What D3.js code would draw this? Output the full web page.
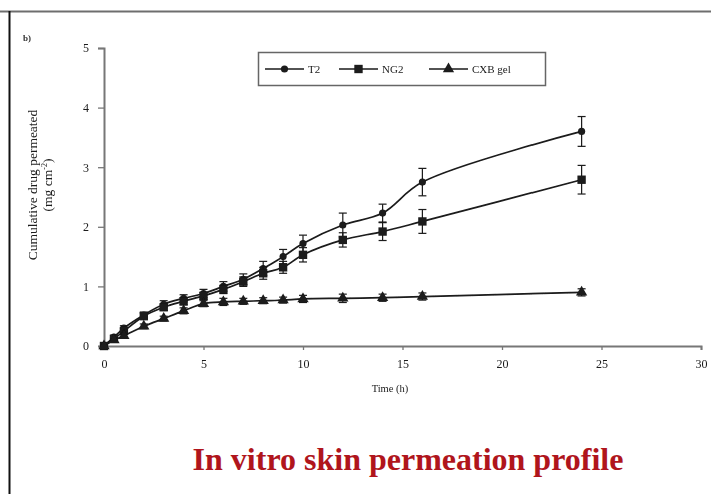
<!DOCTYPE html>
<html>
<head>
<meta charset="utf-8">
<script src="https://cdn.jsdelivr.net/npm/d3@7"></script>
<style>
  html, body { margin: 0; padding: 0; background: #fff; }
  svg { display: block; }
</style>
</head>
<body>
<svg id="chart" width="711" height="494"></svg>
<script>
// Sampling times (h)
const times = [0, 0.5, 1, 2, 3, 4, 5, 6, 7, 8, 9, 10, 12, 14, 16, 24];

// Cumulative drug permeated (mg cm^-2) with standard deviations
const t2Values   = [0, 0.15, 0.30, 0.52, 0.70, 0.80, 0.88, 1.00, 1.12, 1.30, 1.50, 1.72, 2.03, 2.23, 2.75, 3.60];
const t2Errors   = [0, 0.03, 0.04, 0.05, 0.06, 0.06, 0.07, 0.08, 0.09, 0.12, 0.12, 0.14, 0.20, 0.15, 0.23, 0.25];
const ng2Values  = [0, 0.12, 0.25, 0.50, 0.65, 0.75, 0.84, 0.95, 1.08, 1.22, 1.32, 1.53, 1.78, 1.92, 2.09, 2.79];
const ng2Errors  = [0, 0.03, 0.04, 0.05, 0.05, 0.06, 0.06, 0.07, 0.08, 0.10, 0.10, 0.12, 0.12, 0.15, 0.20, 0.24];
const cxbValues  = [0, 0.10, 0.17, 0.33, 0.46, 0.59, 0.71, 0.74, 0.75, 0.76, 0.77, 0.79, 0.80, 0.81, 0.83, 0.90];
const cxbErrors  = [0, 0.02, 0.03, 0.04, 0.04, 0.05, 0.05, 0.06, 0.05, 0.05, 0.05, 0.06, 0.07, 0.06, 0.06, 0.06];

const seriesNames = ["T2", "NG2", "CXB gel"];
const xTicks = [0, 5, 10, 15, 20, 25, 30];
const yTicks = [0, 1, 2, 3, 4, 5];

const series = [
  { name: seriesNames[0], values: t2Values,  errors: t2Errors,  marker: "circle" },
  { name: seriesNames[1], values: ng2Values, errors: ng2Errors, marker: "square" },
  { name: seriesNames[2], values: cxbValues, errors: cxbErrors, marker: "triangle" }
];

const svg = d3.select("#chart");
const ink = "#1a1a1a";
const serif = "'Liberation Serif', 'DejaVu Serif', serif";

// Page frame: grey rule across the top, black rule down the left
svg.append("line").attr("x1", 0).attr("x2", 711).attr("y1", 11.5).attr("y2", 11.5)
  .attr("stroke", "#6e6e6e").attr("stroke-width", 2);
svg.append("line").attr("x1", 9.5).attr("x2", 9.5).attr("y1", 11).attr("y2", 494)
  .attr("stroke", "#111").attr("stroke-width", 2);

const x = d3.scaleLinear().domain([0, 30]).range([104, 701]);
const y = d3.scaleLinear().domain([0, 5]).range([346, 48]);

const defs = svg.append("defs");
defs.append("filter").attr("id", "soft")
  .append("feGaussianBlur").attr("stdDeviation", 0.45);
const plot = svg.append("g").attr("filter", "url(#soft)");

// Axes
const yAxis = d3.axisLeft(y).tickValues(yTicks).tickSize(6).tickPadding(9).tickFormat(d3.format("d"));
const xAxis = d3.axisBottom(x).tickValues(xTicks).tickSize(4).tickPadding(9).tickFormat(d3.format("d"));

const gy = plot.append("g").attr("transform", `translate(${x(0)},0)`).call(yAxis);
const gx = plot.append("g").attr("transform", `translate(0,${y(0)})`).call(xAxis);
[gx, gy].forEach(g => {
  g.select(".domain").attr("stroke", "#777").attr("stroke-width", 2);
  g.selectAll(".tick line").attr("stroke", "#777").attr("stroke-width", 1.3);
  g.selectAll(".tick text").attr("fill", ink).attr("font-family", serif).attr("font-size", 12);
});

// Axis titles
plot.append("text").attr("x", 390).attr("y", 392)
  .attr("text-anchor", "middle").attr("font-family", serif).attr("font-size", 10.5).attr("fill", ink)
  .text("Time (h)");

const yLab = plot.append("text").attr("transform", "translate(37,185) rotate(-90)")
  .attr("text-anchor", "middle").attr("font-family", serif).attr("font-size", 13.5).attr("fill", ink);
yLab.append("tspan").attr("x", 0).attr("dy", 0).text("Cumulative drug permeated");
const l2 = yLab.append("tspan").attr("x", 0).attr("dy", 15).text("(mg cm");
l2.append("tspan").attr("dy", -5).attr("font-size", 8).text("-2");
l2.append("tspan").attr("dy", 5).text(")");

plot.append("text").attr("x", 23).attr("y", 41).attr("font-family", serif)
  .attr("font-size", 9).attr("font-weight", "bold").attr("fill", "#333").text("b)");

// Lines
const line = d3.line()
  .x((d, i) => x(times[i]))
  .y(d => y(d))
  .curve(d3.curveCatmullRom.alpha(0.5));

const markerPath = {
  circle: d3.symbol().type(d3.symbolCircle).size(40),
  square: d3.symbol().type(d3.symbolSquare).size(70),
  triangle: d3.symbol().type(d3.symbolTriangle).size(55)
};

series.forEach(s => {
  const g = plot.append("g");
  g.append("path").datum(s.values).attr("d", line)
    .attr("fill", "none").attr("stroke", ink).attr("stroke-width", 1.7);

  // Error bars with caps
  const eb = g.selectAll(".eb").data(s.values.map((v, i) => ({ t: times[i], v, e: s.errors[i] })))
    .enter().filter(d => d.e > 0).append("g");
  eb.append("line").attr("x1", d => x(d.t)).attr("x2", d => x(d.t))
    .attr("y1", d => y(d.v + d.e)).attr("y2", d => y(d.v - d.e))
    .attr("stroke", ink).attr("stroke-width", 1.2);
  [1, -1].forEach(sgn => {
    eb.append("line").attr("x1", d => x(d.t) - 4).attr("x2", d => x(d.t) + 4)
      .attr("y1", d => y(d.v + sgn * d.e)).attr("y2", d => y(d.v + sgn * d.e))
      .attr("stroke", ink).attr("stroke-width", 1.2);
  });

  g.selectAll(".mk").data(s.values).enter().append("path")
    .attr("d", markerPath[s.marker])
    .attr("transform", (d, i) => `translate(${x(times[i])},${y(d)})`)
    .attr("fill", ink);
});

// Legend
const legend = plot.append("g");
legend.append("rect").attr("x", 258.5).attr("y", 52.5).attr("width", 287).attr("height", 33)
  .attr("fill", "#fff").attr("stroke", "#666").attr("stroke-width", 1.5);
const legendX = [265, 339, 429];
series.forEach((s, i) => {
  const lx = legendX[i], ly = 69;
  legend.append("line").attr("x1", lx).attr("x2", lx + 39).attr("y1", ly).attr("y2", ly)
    .attr("stroke", ink).attr("stroke-width", 1.6);
  legend.append("path").attr("d", markerPath[s.marker])
    .attr("transform", `translate(${lx + 19.5},${ly})`).attr("fill", ink);
  legend.append("text").attr("x", lx + 43).attr("y", ly + 4)
    .attr("font-family", serif).attr("font-size", 11).attr("fill", ink).text(s.name);
});

// Caption
svg.append("text").attr("x", 408).attr("y", 470).attr("text-anchor", "middle")
  .attr("font-family", serif).attr("font-size", 32).attr("font-weight", "bold")
  .attr("fill", "#b0151c").text("In vitro skin permeation profile");
</script>
</body>
</html>
